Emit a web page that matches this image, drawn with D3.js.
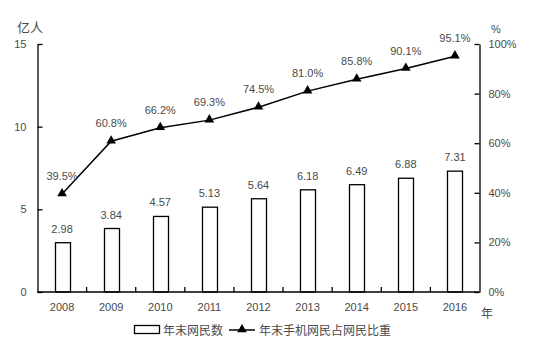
<!DOCTYPE html>
<html>
<head>
<meta charset="utf-8">
<script src="https://cdn.jsdelivr.net/npm/d3@7"></script>
<style>
  html, body { margin: 0; padding: 0; background: #fff; }
  svg text { font-family: "Liberation Sans", "Noto Sans CJK SC", sans-serif; fill: #4a4a4a; }
  .cjk { font-family: "Noto Sans CJK SC", sans-serif; }
</style>
</head>
<body>
<svg id="chart" width="554" height="349"></svg>
<script>
// Yearly totals and mobile share
const years = ["2008", "2009", "2010", "2011", "2012", "2013", "2014", "2015", "2016"];
const netizens = [2.98, 3.84, 4.57, 5.13, 5.64, 6.18, 6.49, 6.88, 7.31];      // 亿人
const mobileShare = [39.5, 60.8, 66.2, 69.3, 74.5, 81.0, 85.8, 90.1, 95.1];  // %
const leftTicks = [0, 5, 10, 15];
const rightTicks = [0, 20, 40, 60, 80, 100];
const seriesNames = ["年末网民数", "年末手机网民占网民比重"];

const svg = d3.select("#chart");
const plotL = 37.5, plotR = 479.5, plotT = 44, plotB = 292;

const x = d3.scaleBand().domain(years).range([plotL, plotR]);
const yL = d3.scaleLinear().domain([0, 15]).range([plotB, plotT]);
const yR = d3.scaleLinear().domain([0, 100]).range([plotB, plotT]);

const ink = "#000";
const numFont = "Liberation Sans";

// Bars
const barW = 15;
svg.append("g").selectAll("rect").data(years).join("rect")
  .attr("x", (d) => Math.round(x(d) + x.bandwidth() / 2 - barW / 2) + 0.5)
  .attr("y", (d, i) => yL(netizens[i]))
  .attr("width", barW)
  .attr("height", (d, i) => plotB - yL(netizens[i]))
  .attr("fill", "#fff").attr("stroke", ink).attr("stroke-width", 1.3);

// Bar value labels
svg.append("g").selectAll("text").data(years).join("text")
  .attr("x", (d) => x(d) + x.bandwidth() / 2)
  .attr("y", (d, i) => yL(netizens[i]) - 10)
  .attr("text-anchor", "middle").attr("font-size", 11)
  .text((d, i) => netizens[i].toFixed(2));

// Left axis
const axL = d3.axisLeft(yL).tickValues(leftTicks).tickSize(-5).tickPadding(11).tickSizeOuter(0);
const gL = svg.append("g").attr("transform", `translate(${plotL},0)`).call(axL);
gL.select(".domain").attr("stroke", ink).attr("stroke-width", 1.3);
gL.selectAll(".tick line").attr("stroke", ink).attr("stroke-width", 1.3);
gL.selectAll(".tick text").attr("font-size", 11).attr("fill", "#4a4a4a").style("font-family", numFont);

// Right axis
const axR = d3.axisRight(yR).tickValues(rightTicks).tickSize(-5).tickPadding(9).tickSizeOuter(0)
  .tickFormat((d) => d + "%");
const gR = svg.append("g").attr("transform", `translate(${plotR},0)`).call(axR);
gR.select(".domain").attr("stroke", ink).attr("stroke-width", 1.3);
gR.selectAll(".tick line").attr("stroke", ink).attr("stroke-width", 1.3);
gR.selectAll(".tick text").attr("font-size", 11).attr("fill", "#4a4a4a").style("font-family", numFont);

// Bottom axis: ticks at category boundaries
const gB = svg.append("g").attr("transform", `translate(0,${plotB})`);
gB.append("line").attr("x1", plotL).attr("x2", plotR).attr("stroke", ink).attr("stroke-width", 1.3);
gB.selectAll("line.sep").data(years.slice(1)).join("line").attr("class", "sep")
  .attr("x1", (d) => x(d)).attr("x2", (d) => x(d)).attr("y1", 0).attr("y2", -5)
  .attr("stroke", ink).attr("stroke-width", 1.3);
gB.selectAll("text").data(years).join("text")
  .attr("x", (d) => x(d) + x.bandwidth() / 2).attr("y", 19)
  .attr("text-anchor", "middle").attr("font-size", 11).text((d) => d);

// Line with triangle markers
const pts = years.map((d, i) => [x(d) + x.bandwidth() / 2, yR(mobileShare[i])]);
svg.append("path").attr("d", d3.line()(pts)).attr("fill", "none")
  .attr("stroke", ink).attr("stroke-width", 1.5);
const tri = d3.symbol().type(d3.symbolTriangle).size(40);
svg.append("g").selectAll("path").data(pts).join("path")
  .attr("transform", (p) => `translate(${p[0]},${p[1] - 0.5})`)
  .attr("d", tri).attr("fill", ink);

// Line value labels
svg.append("g").selectAll("text").data(years).join("text")
  .attr("x", (d) => x(d) + x.bandwidth() / 2)
  .attr("y", (d, i) => yR(mobileShare[i]) - 14)
  .attr("text-anchor", "middle").attr("font-size", 11)
  .text((d, i) => mobileShare[i].toFixed(1) + "%");

// Axis unit labels
svg.append("text").attr("class", "cjk").attr("x", 17).attr("y", 32).attr("font-size", 13).text("亿人");
svg.append("text").attr("x", 496).attr("y", 33).attr("text-anchor", "middle").attr("font-size", 11).text("%");
svg.append("text").attr("class", "cjk").attr("x", 481).attr("y", 318).attr("font-size", 12).text("年");

// Legend
const lg = svg.append("g");
lg.append("rect").attr("x", 134.5).attr("y", 325.5).attr("width", 25).attr("height", 8)
  .attr("fill", "#fff").attr("stroke", ink).attr("stroke-width", 1.3);
lg.append("text").attr("class", "cjk").attr("x", 163).attr("y", 334.5).attr("font-size", 12).text(seriesNames[0]);
lg.append("line").attr("x1", 229).attr("x2", 255).attr("y1", 330).attr("y2", 330)
  .attr("stroke", ink).attr("stroke-width", 1.5);
lg.append("path").attr("transform", "translate(242,329.5)").attr("d", tri).attr("fill", ink);
lg.append("text").attr("class", "cjk").attr("x", 259).attr("y", 334.5).attr("font-size", 12).text(seriesNames[1]);
</script>
</body>
</html>
